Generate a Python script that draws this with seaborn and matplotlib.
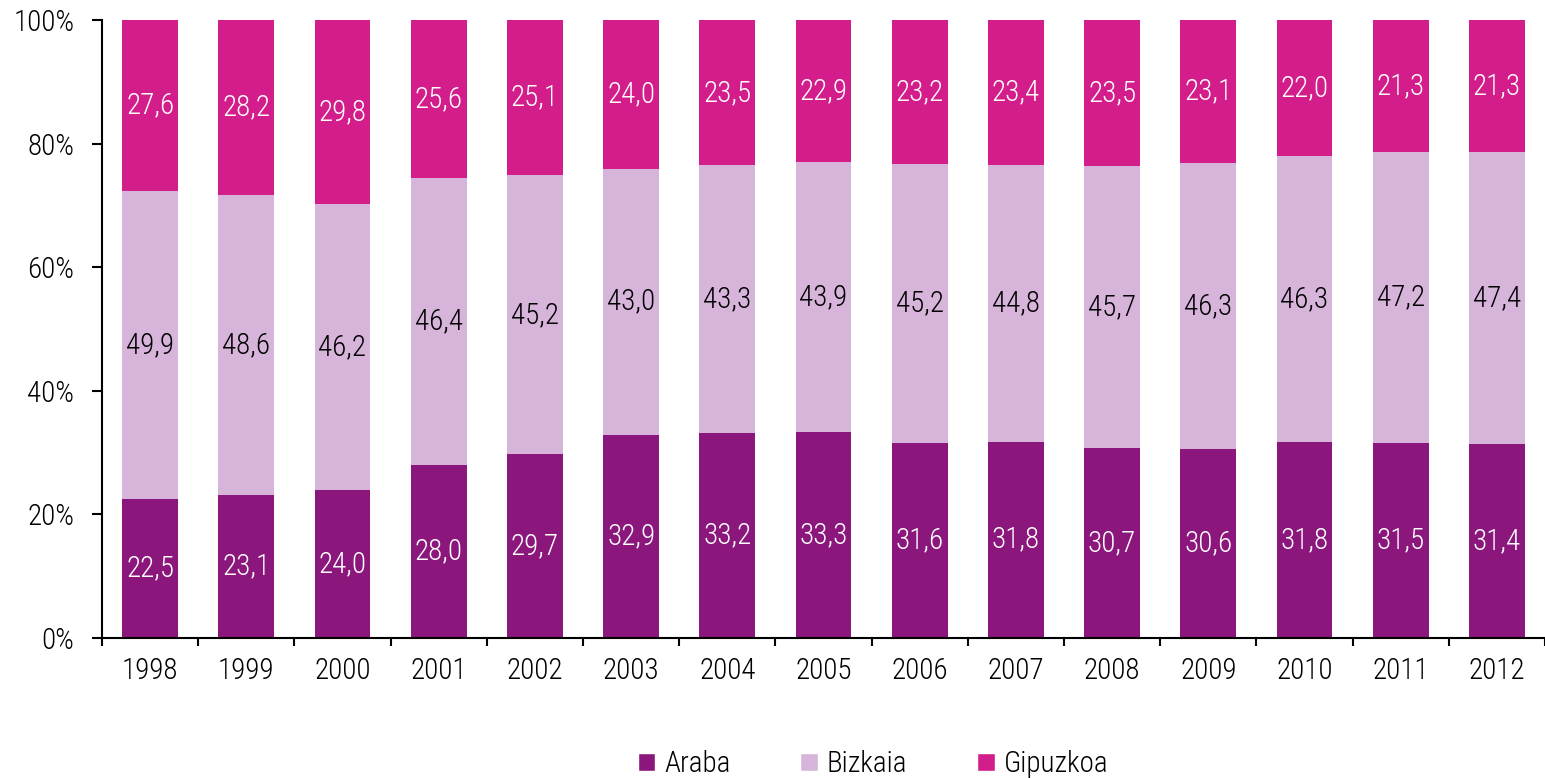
import seaborn as sns
import matplotlib.pyplot as plt
import pandas as pd
import numpy as np
from matplotlib.patches import Patch

years = ['1998', '1999', '2000', '2001', '2002', '2003', '2004', '2005',
         '2006', '2007', '2008', '2009', '2010', '2011', '2012']
araba = [22.5, 23.1, 24.0, 28.0, 29.7, 32.9, 33.2, 33.3, 31.6, 31.8, 30.7, 30.6, 31.8, 31.5, 31.4]
bizkaia = [49.9, 48.6, 46.2, 46.4, 45.2, 43.0, 43.3, 43.9, 45.2, 44.8, 45.7, 46.3, 46.3, 47.2, 47.4]
gipuzkoa = [27.6, 28.2, 29.8, 25.6, 25.1, 24.0, 23.5, 22.9, 23.2, 23.4, 23.5, 23.1, 22.0, 21.3, 21.3]

names = ['Araba', 'Bizkaia', 'Gipuzkoa']
colors = ['#8B177D', '#D7B4DA', '#D31D8B']
text_colors = ['white', 'black', 'white']

sns.set_style('white')
plt.rcParams['font.family'] = ['Roboto Condensed', 'DejaVu Sans']
plt.rcParams['font.stretch'] = 'condensed'
plt.rcParams['font.weight'] = 'light'
plt.rcParams['text.color'] = 'black'
plt.rcParams['xtick.color'] = 'black'
plt.rcParams['ytick.color'] = 'black'

df = pd.DataFrame({'year': years, 'Araba': araba, 'Bizkaia': bizkaia, 'Gipuzkoa': gipuzkoa})
vals = df[names].to_numpy()
shares = vals / vals.sum(axis=1, keepdims=True) * 100
cum = np.cumsum(shares, axis=1)

fig, ax = plt.subplots(figsize=(15.45, 7.78), dpi=100)
fig.subplots_adjust(left=0.066, right=1.0, top=0.974, bottom=0.18)

# draw from top layer down so the lower layers sit over the taller ones
for i in range(2, -1, -1):
    sns.barplot(x=df['year'], y=cum[:, i], color=colors[i], width=0.58,
                saturation=1, ax=ax, edgecolor='none')

fs = 21
for j in range(len(years)):
    for i in range(3):
        bottom = cum[j, i] - shares[j, i]
        ax.text(j, bottom + shares[j, i] / 2, f'{vals[j, i]:.1f}'.replace('.', ','),
                ha='center', va='center', color=text_colors[i], fontsize=fs)

ax.set_ylim(0, 100)
ax.set_xlim(-0.5, len(years) - 0.5)
ax.set_yticks(range(0, 101, 20))
ax.set_yticklabels([f'{v}%' for v in range(0, 101, 20)], fontsize=fs)
ax.set_xticks(range(len(years)))
ax.set_xticklabels(years, fontsize=fs)
ax.tick_params(axis='x', length=0, pad=14)
ax.set_xticks(np.arange(-0.5, len(years), 1), minor=True)
ax.tick_params(axis='x', which='minor', length=6, width=1.5, direction='out', bottom=True)
ax.tick_params(axis='y', length=7, width=1.5, direction='out', left=True, pad=13)
ax.set_xlabel('')
ax.set_ylabel('')
for s in ['top', 'right']:
    ax.spines[s].set_visible(False)
for s in ['left', 'bottom']:
    ax.spines[s].set_linewidth(1.5)
    ax.spines[s].set_color('black')

handles = [Patch(facecolor=c, label=n) for c, n in zip(colors, names)]
fig.legend(handles=handles, loc='lower center', bbox_to_anchor=(0.565, -0.034), ncol=3,
           frameon=False, fontsize=fs, handlelength=0.6, handleheight=0.6,
           handletextpad=0.3, columnspacing=2.4)

fig.savefig('out.png', dpi=100)
